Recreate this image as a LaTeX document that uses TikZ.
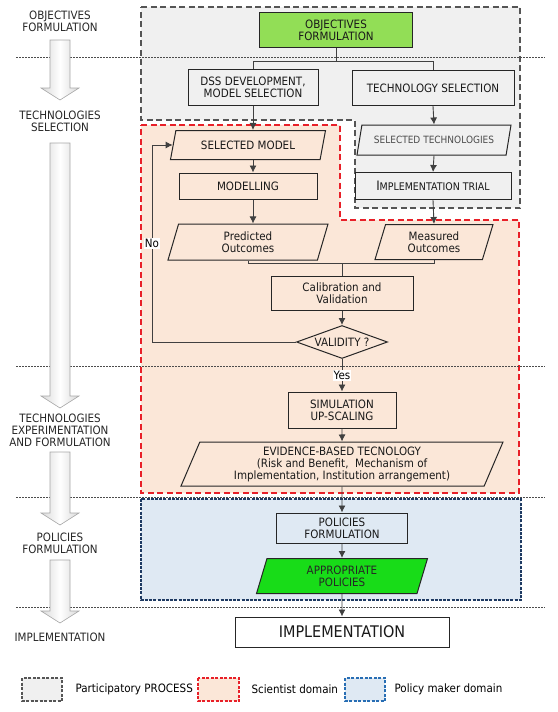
\documentclass[tikz,border=0pt]{standalone}
\usepackage{fontspec}
\setmainfont{DejaVu Sans}[FakeStretch=0.9]
\usetikzlibrary{shapes.geometric}
\usetikzlibrary{arrows.meta}

\definecolor{objgreen}{RGB}{146,222,86}
\definecolor{apgreen}{RGB}{24,220,24}
\definecolor{partfill}{RGB}{240,240,240}
\definecolor{partline}{RGB}{85,85,85}
\definecolor{scifill}{RGB}{251,231,216}
\definecolor{sciline}{RGB}{232,32,40}
\definecolor{polfill}{RGB}{223,233,243}
\definecolor{polline}{RGB}{30,58,98}
\definecolor{legblue}{RGB}{40,110,180}

\tikzset{
  box/.style={draw=black!85, line width=1pt, align=center, inner sep=2pt,
    text=black!90, font=\fontsize{11.5}{12}\selectfont},
  data/.style={box, trapezium, trapezium left angle=67, trapezium right angle=113,
    trapezium stretches body},
  flow/.style={->, >={Latex[length=7pt,width=7pt]}, draw=black!75, line width=0.9pt},
  link/.style={draw=black!75, line width=0.9pt},
  stage/.style={align=center, text=black!85, font=\fontsize{11.5}{12}\selectfont},
  divider/.style={draw=black!70, line width=0.7pt, dash pattern=on 1.5pt off 1.5pt},
  lbl/.style={fill=white, inner sep=1pt, font=\fontsize{11.5}{12}\selectfont},
  legtext/.style={anchor=west, font=\fontsize{11.5}{12}\selectfont},
}

\newcommand{\stagearrow}[2]{%
  \shadedraw[left color=gray!30, right color=gray!30, middle color=white,
    draw=gray!70, line width=0.6pt]
    (50,#1) -- (70,#1) -- (70,#2-12) -- (79,#2-12) -- (60,#2)
    -- (41,#2-12) -- (50,#2-12) -- cycle;}

\begin{document}
\begin{tikzpicture}[x=1pt,y=-1pt]
    \useasboundingbox (0,0) rectangle (557,712);

    % Domains
    \draw[draw=partline, fill=partfill, line width=1.8pt, dash pattern=on 6pt off 3.5pt]
      (141,7) -- (520,7) -- (520,208) -- (355,208) -- (355,120) -- (141,120) -- cycle;
    \draw[draw=sciline, fill=scifill, line width=1.8pt, dash pattern=on 6pt off 3.5pt]
      (141,125) -- (340,125) -- (340,220) -- (519,220) -- (519,493) -- (141,493) -- cycle;
    \draw[draw=polline, fill=polfill, line width=1.6pt, dash pattern=on 3pt off 1.2pt]
      (141,499) rectangle (521,600);

    % Stage dividers
    \foreach \yy in {57,366,497,607}
      \draw[divider] (16,\yy) -- (545,\yy);

    % Stages
    \node[stage] (s1) at (60,21) {OBJECTIVES\\FORMULATION};
    \node[stage] (s2) at (60,121) {TECHNOLOGIES\\SELECTION};
    \node[stage] (s3) at (60,430) {TECHNOLOGIES\\EXPERIMENTATION\\AND FORMULATION};
    \node[stage] (s4) at (60,543) {POLICIES\\FORMULATION};
    \node[stage] (s5) at (60,637) {IMPLEMENTATION};
    \stagearrow{40}{100}
    \stagearrow{143}{408}
    \stagearrow{452}{525}
    \stagearrow{560}{623}

    % Participatory part
    \node[box, fill=objgreen, minimum width=153, minimum height=35] (obj) at (336,30) {OBJECTIVES\\FORMULATION};
    \node[box, fill=partfill, minimum width=130, minimum height=36] (dss) at (253,87) {DSS DEVELOPMENT,\\MODEL SELECTION};
    \node[box, fill=partfill, minimum width=162, minimum height=35] (techsel) at (433,88) {TECHNOLOGY SELECTION};
    \node[data, fill=partfill, text=black!70, font=\fontsize{10}{11}\selectfont,
      minimum width=154, minimum height=30] (seltech) at (434,140) {SELECTED TECHNOLOGIES};
    \node[box, fill=partfill, minimum width=156, minimum height=27] (impltrial) at (433,186)
      {{\fontsize{13}{13}\selectfont I}{\fontsize{10.5}{12}\selectfont MPLEMENTATION TRIAL}};

    % Scientist part
    \node[data, fill=scifill, minimum width=155, minimum height=29] (selmodel) at (248,145) {SELECTED MODEL};
    \node[box, fill=scifill, minimum width=138, minimum height=26] (modelling) at (248,186) {MODELLING};
    \node[data, fill=scifill, minimum width=160, minimum height=36] (predicted) at (248,242) {Predicted\\Outcomes};
    \node[data, fill=scifill, minimum width=118, minimum height=35] (measured) at (434,242) {Measured\\Outcomes};
    \node[box, fill=scifill, minimum width=142, minimum height=34] (calib) at (342,293) {Calibration and\\Validation};
    \node[box, diamond, aspect=2.75, inner sep=0pt, fill=scifill,
      minimum width=91, minimum height=33] (validity) at (342,342) {VALIDITY ?};
    \node[box, fill=scifill, minimum width=108, minimum height=36] (simul) at (342,410) {SIMULATION\\UP-SCALING};
    \node[data, trapezium left angle=63, trapezium right angle=117, fill=scifill,
      minimum width=322, minimum height=44, inner sep=1pt] (evidence) at (342,464)
      {EVIDENCE-BASED TECNOLOGY\\(Risk and Benefit,\ \ Mechanism of\\Implementation, Institution arrangement)};

    % Policy part
    \node[box, fill=polfill, minimum width=131, minimum height=30] (polform) at (342,528) {POLICIES\\FORMULATION};
    \node[data, fill=apgreen, text=black!85, minimum width=171, minimum height=35] (approp) at (342,576) {APPROPRIATE\\POLICIES};
    \node[box, fill=white, minimum width=214, minimum height=30,
      font=\fontsize{16}{16}\selectfont] (impl) at (342,632) {IMPLEMENTATION};

    % Connectors
    \draw[link] (obj.south) -- ++(0,13) -| (dss.north);
    \draw[link] (obj.south) -- ++(0,13) -| (techsel.north);
    \draw[flow] (dss.south) -- (dss.south |- selmodel.north);
    \draw[flow] (selmodel.south -| dss.south) -- (modelling.north -| dss.south);
    \draw[flow] (modelling.south -| dss.south) -- (predicted.north -| dss.south);
    \draw[flow] (techsel.south) -- (seltech.north);
    \draw[flow] (seltech.south) -- (impltrial.north);
    \draw[flow] (impltrial.south) -- (measured.north);
    \draw[link] (predicted.south) -- ++(0,3) coordinate (join) -| (measured.south);
    \draw[link] (join -| calib.north) -- (calib.north);
    \draw[flow] (calib.south) -- (validity.north);
    \coordinate (nobend) at (152,0);
    \draw[flow] (validity.west) -- (validity.west -| nobend)
      -- node[lbl] (no) {No} (nobend |- selmodel.west) -- (selmodel.west);
    \draw[flow] (validity.south) -- node[lbl] (yes) {Yes} (simul.north);
    \draw[flow] (simul.south) -- (evidence.north);
    \draw[flow] (evidence.south) -- (polform.north);
    \draw[flow] (polform.south) -- (approp.north);
    \draw[flow] (approp.south) -- (impl.north);

    % Legend
    \draw[draw=partline, fill=partfill, line width=1.3pt, dash pattern=on 3pt off 1.5pt] (22,678) rectangle (62,701);
    \node[legtext] (leg1) at (72,689) {Participatory PROCESS};
    \draw[draw=sciline, fill=scifill, line width=1.3pt, dash pattern=on 3pt off 1.5pt] (198,678) rectangle (239,701);
    \node[legtext] (leg2) at (248,689) {Scientist domain};
    \draw[draw=legblue, fill=polfill, line width=1.3pt, dash pattern=on 3pt off 1.5pt] (345,678) rectangle (385,701);
    \node[legtext] (leg3) at (391,689) {Policy maker domain};
\end{tikzpicture}
\end{document}
